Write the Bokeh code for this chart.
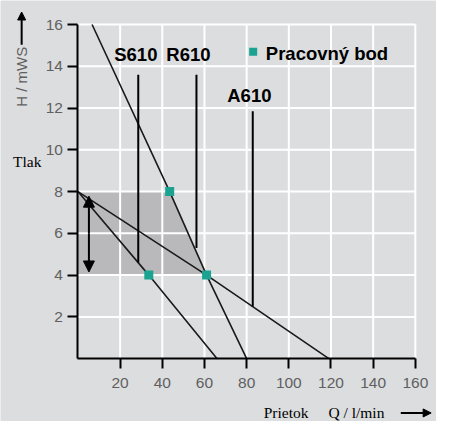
import numpy as np
from bokeh.plotting import figure
from bokeh.models import FixedTicker, Label, Arrow, NormalHead, Range1d
from bokeh.core.properties import value
from bokeh.embed import file_html
from bokeh.resources import INLINE

# ---- data ----
x_ticks = [20, 40, 60, 80, 100, 120, 140, 160]
y_ticks = [2, 4, 6, 8, 10, 12, 14, 16]

# pump / system curves (Q in l/min, H in mWS)
curve_steep_q = [6.7, 43.5, 61, 80]
curve_steep_h = [16, 8, 4, 0]
curve_mid_q = [0, 33.6, 66]
curve_mid_h = [8, 4, 0]
curve_flat_q = [0, 61, 119]
curve_flat_h = [8, 4, 0]

# model markers (vertical lines)
models = ["S610", "R610", "A610"]
model_q = [28.6, 56.2, 82.9]
model_h_top = [13.6, 13.6, 11.85]
model_h_bottom = [4.6, 5.3, 2.5]

# operating points
op_q = [43.5, 33.6, 61]
op_h = [8, 4, 4]

# working-range area
area_q = [0, 43.5, 61, 0]
area_h = [8, 8, 4, 4]

BG = "#dcdddf"
TEAL = "#1aa391"

p = figure(width=436, height=421, output_backend="svg", toolbar_location=None,
           x_range=Range1d(-36.73, 170.04), y_range=Range1d(-3.01, 17.15),
           min_border=0)
p.background_fill_color = BG
p.border_fill_color = BG
p.outline_line_color = None
p.grid.visible = False

for ax, ticks, bnd in ((p.xaxis[0], x_ticks, (0, 160)), (p.yaxis[0], y_ticks, (0, 16))):
    ax.ticker = FixedTicker(ticks=ticks)
    ax.fixed_location = 0
    ax.bounds = bnd
    ax.axis_line_color = "black"
    ax.axis_line_width = 2
    ax.major_tick_line_color = "black"
    ax.major_tick_line_width = 2
    ax.major_tick_in = 0
    ax.major_tick_out = 10
    ax.minor_tick_line_color = None
    ax.major_label_text_font = "Liberation Sans"
    ax.major_label_text_font_size = "15.5px"
    ax.major_label_text_color = "#606060"
p.yaxis.major_label_standoff = 5
p.xaxis.major_label_standoff = 9

# shaded working range
p.patch(area_q, area_h, fill_color="#b9b9bb", line_color=None)

# white grid limited to the chart area
p.segment(x0=x_ticks, y0=[0] * len(x_ticks), x1=x_ticks, y1=[16] * len(x_ticks),
          line_color="white", line_width=2)
p.segment(x0=[0] * len(y_ticks), y0=y_ticks, x1=[160] * len(y_ticks), y1=y_ticks,
          line_color="white", line_width=2)

lc = "#1a1a1a"
p.line(curve_steep_q, curve_steep_h, line_color=lc, line_width=1.6)
p.line(curve_mid_q, curve_mid_h, line_color=lc, line_width=1.6)
p.line(curve_flat_q, curve_flat_h, line_color=lc, line_width=1.6)

p.segment(x0=model_q, y0=model_h_bottom, x1=model_q, y1=model_h_top,
          line_color="black", line_width=2)

p.scatter(op_q, op_h, marker="square", size=9, fill_color=TEAL, line_color=None)

# double arrow (pressure range)
p.add_layout(Arrow(x_start=5.2, y_start=6.0, x_end=5.2, y_end=7.78,
                   line_color="black", line_width=2,
                   end=NormalHead(size=11, fill_color="black", line_color="black")))
p.add_layout(Arrow(x_start=5.2, y_start=6.0, x_end=5.2, y_end=4.15,
                   line_color="black", line_width=2,
                   end=NormalHead(size=11, fill_color="black", line_color="black")))

bold = dict(text_font=value("Liberation Sans"), text_font_style="bold",
            text_font_size="18.5px", text_color="black", text_baseline="middle",
            text_align="left")
p.text(x=[17.2, 41.9], y=[14.57, 14.57], text=models[:2], **bold)
p.text(x=[70.8], y=[12.58], text=models[2:], **bold)
p.scatter([83.1], [14.7], marker="square", size=8, fill_color=TEAL, line_color=None)
p.text(x=[89.1], y=[14.6], text=["Pracovný bod"], **bold)

# outer labels
p.add_layout(Label(x=-26.7, y=13.5, text="H / mWS", angle=np.pi / 2,
                   text_align="center", text_baseline="middle",
                   text_font="Liberation Sans", text_font_size="15px",
                   text_color="#606060"))
p.add_layout(Arrow(x_start=-26.7, y_start=15.03, x_end=-26.7, y_end=16.6,
                   line_color="black", line_width=2,
                   end=NormalHead(size=8, fill_color="black", line_color="black")))
serif = dict(text_align="left", text_baseline="middle", text_font="Liberation Serif",
             text_font_size="15.5px", text_color="black")
p.add_layout(Label(x=-30.8, y=9.45, text="Tlak", **serif))
p.add_layout(Label(x=88.1, y=-2.6, text="Prietok", **serif))
p.add_layout(Label(x=118.8, y=-2.6, text="Q / l/min", **serif))
p.add_layout(Arrow(x_start=153.1, y_start=-2.6, x_end=167.5, y_end=-2.6,
                   line_color="black", line_width=2,
                   end=NormalHead(size=8, fill_color="black", line_color="black")))

open("out.html", "w").write(file_html(p, INLINE))
